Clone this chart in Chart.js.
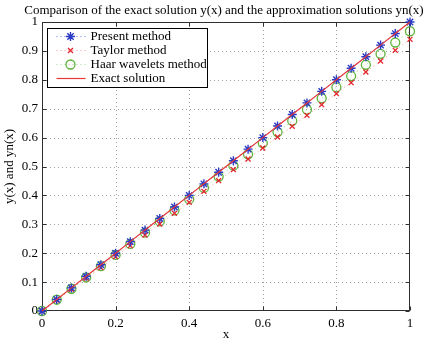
<!DOCTYPE html>
<html>
<head>
<meta charset="utf-8">
<script src="https://cdn.jsdelivr.net/npm/chart.js@4.4.0/dist/chart.umd.min.js"></script>
<style>
  html, body { margin: 0; padding: 0; background: #fff; }
  #wrap { width: 425px; height: 343px; }
</style>
</head>
<body>
<div id="wrap"><canvas id="c" width="425" height="343"></canvas></div>
<script>
// ---- data ----
const xValues = [0, 0.04, 0.08, 0.12, 0.16, 0.20, 0.24, 0.28, 0.32, 0.36, 0.40, 0.44, 0.48,
                 0.52, 0.56, 0.60, 0.64, 0.68, 0.72, 0.76, 0.80, 0.84, 0.88, 0.92, 0.96, 1.00];
const presentMethod = [0, 0.04, 0.08, 0.12, 0.16, 0.20, 0.24, 0.28, 0.32, 0.36, 0.40, 0.44, 0.48,
                       0.52, 0.56, 0.60, 0.64, 0.68, 0.72, 0.76, 0.80, 0.84, 0.88, 0.92, 0.96, 1.00];
const taylorMethod = [0, 0.038, 0.075, 0.113, 0.150, 0.188, 0.226, 0.263, 0.301, 0.338, 0.376, 0.414, 0.451,
                      0.489, 0.526, 0.564, 0.602, 0.639, 0.677, 0.714, 0.752, 0.790, 0.827, 0.865, 0.902, 0.940];
const haarMethod = [0, 0.039, 0.077, 0.116, 0.155, 0.194, 0.232, 0.271, 0.310, 0.348, 0.387, 0.426, 0.465,
                    0.503, 0.542, 0.581, 0.619, 0.658, 0.697, 0.736, 0.774, 0.813, 0.852, 0.890, 0.929, 0.968];
const exactSolution = [0, 0.04, 0.08, 0.12, 0.16, 0.20, 0.24, 0.28, 0.32, 0.36, 0.40, 0.44, 0.48,
                       0.52, 0.56, 0.60, 0.64, 0.68, 0.72, 0.76, 0.80, 0.84, 0.88, 0.92, 0.96, 1.00];
const xTickLabels = ['0', '0.2', '0.4', '0.6', '0.8', '1'];
const yTickLabels = ['0', '0.1', '0.2', '0.3', '0.4', '0.5', '0.6', '0.7', '0.8', '0.9', '1'];
const seriesNames = ['Present method', 'Taylor method', 'Haar wavelets method', 'Exact solution'];
const titleText = 'Comparison of the exact solution y(x) and the approximation solutions yn(x)';

const FONT = "'Liberation Serif', 'Times New Roman', serif";
const toPts = arr => arr.map((v, i) => ({ x: xValues[i], y: v }));

const BLUE = '#2a3ac4', RED = '#e4242c', GREEN = '#5cb43c', EXACT = '#e83838';

const matlabAxes = {
  id: 'matlabAxes',
  beforeDatasetsDraw(chart) {
    const { ctx, chartArea: a, scales: { x, y } } = chart;
    ctx.save();
    ctx.lineWidth = 1;
    ctx.strokeStyle = '#a0a0a0';
    ctx.setLineDash([1, 3]);
    x.ticks.forEach(t => {
      const px = Math.round(x.getPixelForValue(t.value)) + 0.5;
      if (px <= a.left + 1 || px >= a.right - 1) return;
      ctx.beginPath(); ctx.moveTo(px, a.top); ctx.lineTo(px, a.bottom); ctx.stroke();
    });
    y.ticks.forEach(t => {
      const py = Math.round(y.getPixelForValue(t.value)) + 0.5;
      if (py <= a.top + 1 || py >= a.bottom - 1) return;
      ctx.beginPath(); ctx.moveTo(a.left, py); ctx.lineTo(a.right, py); ctx.stroke();
    });
    ctx.setLineDash([]);
    ctx.strokeStyle = '#303030';
    const L = Math.round(a.left) + 0.5, R = Math.round(a.right) - 0.5,
          T = Math.round(a.top) + 0.5, B = Math.round(a.bottom) - 0.5;
    ctx.strokeRect(L, T, R - L, B - T);
    const tl = 4;
    x.ticks.forEach(t => {
      const px = Math.round(x.getPixelForValue(t.value)) + 0.5;
      ctx.beginPath();
      ctx.moveTo(px, B); ctx.lineTo(px, B - tl);
      ctx.moveTo(px, T); ctx.lineTo(px, T + tl);
      ctx.stroke();
    });
    y.ticks.forEach(t => {
      const py = Math.round(y.getPixelForValue(t.value)) + 0.5;
      ctx.beginPath();
      ctx.moveTo(L, py); ctx.lineTo(L + tl, py);
      ctx.moveTo(R, py); ctx.lineTo(R - tl, py);
      ctx.stroke();
    });
    ctx.restore();
  },
  afterDraw(chart) {
    const { ctx, chartArea: a } = chart;
    const dsList = chart.data.datasets;
    ctx.save();
    // title
    ctx.fillStyle = '#000';
    ctx.font = '13px ' + FONT;
    ctx.textAlign = 'center';
    ctx.textBaseline = 'middle';
    ctx.fillText(titleText, 224, 11);
    // legend
    const bx = Math.round(a.left) + 5.5, by = Math.round(a.top) + 6.5, bw = 160, bh = 59;
    ctx.fillStyle = '#fff';
    ctx.fillRect(bx, by, bw, bh);
    ctx.strokeStyle = '#000';
    ctx.lineWidth = 1;
    ctx.strokeRect(bx, by, bw, bh);
    const rows = [8, 22, 36, 50];
    dsList.forEach((ds, i) => {
      const ry = by + rows[i];
      const x0 = bx + 9, x1 = bx + 38, xm = bx + 23;
      ctx.strokeStyle = ds.borderColor;
      ctx.lineWidth = ds.borderWidth;
      ctx.setLineDash(ds.borderDash || []);
      ctx.beginPath(); ctx.moveTo(x0, ry); ctx.lineTo(x1, ry); ctx.stroke();
      ctx.setLineDash([]);
      if (ds.pointRadius > 0) {
        ctx.strokeStyle = ds.pointBorderColor;
        ctx.fillStyle = ds.pointBackgroundColor;
        ctx.lineWidth = ds.pointBorderWidth;
        Chart.helpers.drawPoint(ctx, {
          pointStyle: ds.pointStyle, radius: ds.pointRadius, borderWidth: ds.pointBorderWidth, rotation: 0
        }, xm, ry);
      }
      ctx.fillStyle = '#000';
      ctx.font = '13px ' + FONT;
      ctx.textBaseline = 'middle';
      ctx.textAlign = 'left';
      ctx.fillText(ds.label, bx + 43, ry + 0.5);
    });
    ctx.restore();
  }
};

new Chart(document.getElementById('c'), {
  type: 'line',
  data: {
    datasets: [
      { label: seriesNames[0], data: toPts(presentMethod), order: 1,
        borderColor: 'rgba(60,80,210,0.75)', borderWidth: 1, borderDash: [1, 3],
        pointStyle: 'star', pointRadius: 4.5, pointBorderColor: BLUE, pointBackgroundColor: BLUE,
        pointBorderWidth: 1.4, clip: false },
      { label: seriesNames[1], data: toPts(taylorMethod), order: 2,
        borderColor: 'rgba(235,90,90,0.6)', borderWidth: 1, borderDash: [1, 3],
        pointStyle: 'crossRot', pointRadius: 3.5, pointBorderColor: RED, pointBackgroundColor: RED,
        pointBorderWidth: 1.3, clip: false },
      { label: seriesNames[2], data: toPts(haarMethod), order: 3,
        borderColor: 'rgba(100,190,80,0.6)', borderWidth: 1, borderDash: [1, 3],
        pointStyle: 'circle', pointRadius: 4.5, pointBorderColor: GREEN, pointBackgroundColor: 'rgba(0,0,0,0)',
        pointBorderWidth: 1.3, clip: false },
      { label: seriesNames[3], data: toPts(exactSolution), order: 0,
        borderColor: EXACT, borderWidth: 1.2, pointRadius: 0, clip: false }
    ]
  },
  options: {
    responsive: false,
    animation: false,
    layout: { padding: { top: 22, right: 15, bottom: 0, left: 0 } },
    plugins: {
      legend: { display: false },
      tooltip: { enabled: false },
      title: { display: false }
    },
    scales: {
      x: {
        type: 'linear', min: 0, max: 1,
        afterFit: s => { s.height = 32; },
        grid: { display: false, drawTicks: false },
        border: { display: false },
        ticks: {
          stepSize: 0.2, padding: 5, color: '#000', maxRotation: 0,
          font: { family: FONT, size: 13 },
          callback: (v, i) => xTickLabels[i]
        },
        title: { display: true, text: 'x', color: '#000', font: { family: FONT, size: 13 }, padding: { top: 0, bottom: 1 } }
      },
      y: {
        type: 'linear', min: 0, max: 1,
        afterFit: s => { s.width = 42; },
        grid: { display: false, drawTicks: false },
        border: { display: false },
        ticks: {
          stepSize: 0.1, padding: 4, color: '#000',
          font: { family: FONT, size: 13 },
          callback: (v, i) => yTickLabels[i]
        },
        title: { display: true, text: 'y(x) and yn(x)', color: '#000', font: { family: FONT, size: 13 }, padding: { top: 2, bottom: 0 } }
      }
    }
  },
  plugins: [matlabAxes]
});
</script>
</body>
</html>
